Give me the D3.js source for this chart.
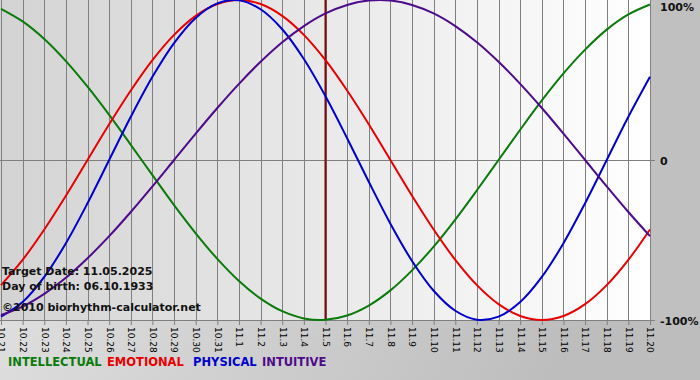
<!DOCTYPE html>
<html><head><meta charset="utf-8">
<script src="https://cdn.jsdelivr.net/npm/d3@7"></script>
<style>html,body{margin:0;padding:0;overflow:hidden;background:#fff}svg{display:block}</style>
</head><body><svg id="c" width="700" height="380"></svg>
<script>
const days = ["10.21","10.22","10.23","10.24","10.25","10.26","10.27","10.28","10.29","10.30","10.31",
  "11.1","11.2","11.3","11.4","11.5","11.6","11.7","11.8","11.9","11.10","11.11","11.12","11.13","11.14",
  "11.15","11.16","11.17","11.18","11.19","11.20"];
const intellectual = [0.945,0.866,0.756,0.618,0.458,0.282,0.095,-0.095,-0.282,-0.458,-0.618,-0.756,-0.866,-0.945,-0.990,-0.999,-0.972,-0.910,-0.815,-0.690,-0.541,-0.372,-0.189,0,0.189,0.372,0.541,0.690,0.815,0.910,0.972];
const emotional = [-0.782,-0.624,-0.434,-0.223,0,0.223,0.434,0.624,0.782,0.901,0.975,1.0,0.975,0.901,0.782,0.624,0.434,0.223,0,-0.223,-0.434,-0.624,-0.782,-0.901,-0.975,-1.0,-0.975,-0.901,-0.782,-0.624,-0.434];
const physical = [-0.979,-0.888,-0.731,-0.520,-0.270,0,0.270,0.520,0.731,0.888,0.979,0.998,0.942,0.817,0.631,0.398,0.136,-0.136,-0.398,-0.631,-0.817,-0.942,-0.998,-0.979,-0.888,-0.731,-0.520,-0.270,0,0.270,0.520];
const intuitive = [-0.969,-0.916,-0.837,-0.736,-0.614,-0.476,-0.325,-0.165,0,0.165,0.325,0.476,0.614,0.736,0.837,0.916,0.969,0.997,0.997,0.969,0.916,0.837,0.736,0.614,0.476,0.325,0.165,0,-0.165,-0.325,-0.476];
const yTicks = [1, 0, -1];
const yTickLabels = ["100%", "0", "-100%"];
const targetDay = "11.5";
const infoLines = ["Target Date: 11.05.2025", "Day of birth: 06.10.1933", "\u00a92010 biorhythm-calculator.net"];
const seriesNames = ["INTELLECTUAL", "EMOTIONAL", "PHYSICAL", "INTUITIVE"];
const seriesColors = ["#0a7a0a", "#e80000", "#0000cc", "#4e0a8a"];
const seriesData = [intellectual, emotional, physical, intuitive];

const svg = d3.select("#c");
const W = 700, H = 380;
const plotL = 0, plotR = 650, plotT = 0, plotB = 320;
const defs = svg.append("defs");
const bg = defs.append("linearGradient").attr("id","bg").attr("x1","0").attr("x2","1").attr("y1","0").attr("y2","0.3");
bg.append("stop").attr("offset","0").attr("stop-color","#e8e8e8");
bg.append("stop").attr("offset","1").attr("stop-color","#bdbdbd");
const pg = defs.append("linearGradient").attr("id","pg").attr("x1","0").attr("x2","1").attr("y1","0").attr("y2","0");
pg.append("stop").attr("offset","0").attr("stop-color","#d3d3d3");
pg.append("stop").attr("offset","1").attr("stop-color","#ffffff");

svg.append("rect").attr("width",W).attr("height",H).attr("fill","url(#bg)");
svg.append("rect").attr("x",plotR).attr("y",0).attr("width",W-plotR).attr("height",plotB).attr("fill","#c0c0c0");

const x = d3.scalePoint().domain(days).range([1, 650]);
const y = d3.scaleLinear().domain([-1, 1]).range([plotB, plotT]);

svg.append("rect").attr("x",plotL).attr("y",plotT).attr("width",plotR-plotL).attr("height",plotB-plotT).attr("fill","url(#pg)");

// vertical gridlines
svg.append("g").selectAll("line").data(days).join("line")
  .attr("x1", d => Math.round(x(d)) + 0.5).attr("x2", d => Math.round(x(d)) + 0.5)
  .attr("y1", plotT).attr("y2", plotB).attr("stroke", "#7f7f7f").attr("stroke-width", 1);
// zero line
svg.append("line").attr("x1",plotL).attr("x2",plotR+5).attr("y1",Math.round(y(0))+0.5).attr("y2",Math.round(y(0))+0.5)
  .attr("stroke","#7f7f7f");

// x axis
const xAxis = d3.axisBottom(x).tickSize(5).tickPadding(2);
const gx = svg.append("g").attr("transform",`translate(0,${plotB})`).call(xAxis);
gx.select(".domain").attr("stroke","#7f7f7f").attr("d",`M${plotL},0.5H${plotR+5}`);
gx.selectAll(".tick line").attr("stroke","#7f7f7f");
gx.selectAll(".tick text")
  .attr("transform","rotate(90)")
  .attr("x", 7).attr("y", 0).attr("dy","0.35em")
  .style("text-anchor","start")
  .attr("fill","#000")
  .style("font-family","'DejaVu Sans', Verdana, sans-serif")
  .style("font-size","9px");

// target line
svg.append("line").attr("x1",x(targetDay)).attr("x2",x(targetDay)).attr("y1",plotT).attr("y2",plotB)
  .attr("stroke","#7a0a0a").attr("stroke-width",2);

// y labels
svg.append("g").selectAll("text").data(yTicks).join("text")
  .attr("x", 660).attr("y", d => Math.max(y(d) + 1, 7)).attr("dy","0.36em")
  .text((d,i) => yTickLabels[i])
  .style("font-family","'DejaVu Sans', Verdana, sans-serif").style("font-weight","bold").style("font-size","11px")
  .attr("fill","#111");

// curves
const line = d3.line().x((d,i) => x(days[i])).y(d => y(d)).curve(d3.curveCatmullRom.alpha(0.5));
svg.append("g").selectAll("path").data(seriesData).join("path")
  .attr("d", d => line(d)).attr("fill","none")
  .attr("stroke",(d,i) => seriesColors[i]).attr("stroke-width",2);

// info text
svg.append("g").selectAll("text").data(infoLines).join("text")
  .attr("x", 2).attr("y", (d,i) => [275, 290, 311][i])
  .text(d => d)
  .style("font-family","'DejaVu Sans', Verdana, sans-serif").style("font-weight","bold").style("font-size","11px")
  .attr("fill","#111");

// legend
const legendX = [8, 107, 193, 262];
svg.append("g").selectAll("text").data(seriesNames).join("text")
  .attr("x", (d,i) => legendX[i]).attr("y", 366)
  .attr("fill", (d,i) => seriesColors[i])
  .text(d => d)
  .style("font-family","'DejaVu Sans', Verdana, sans-serif").style("font-weight","bold").style("font-size","11.5px");
</script></body></html>
